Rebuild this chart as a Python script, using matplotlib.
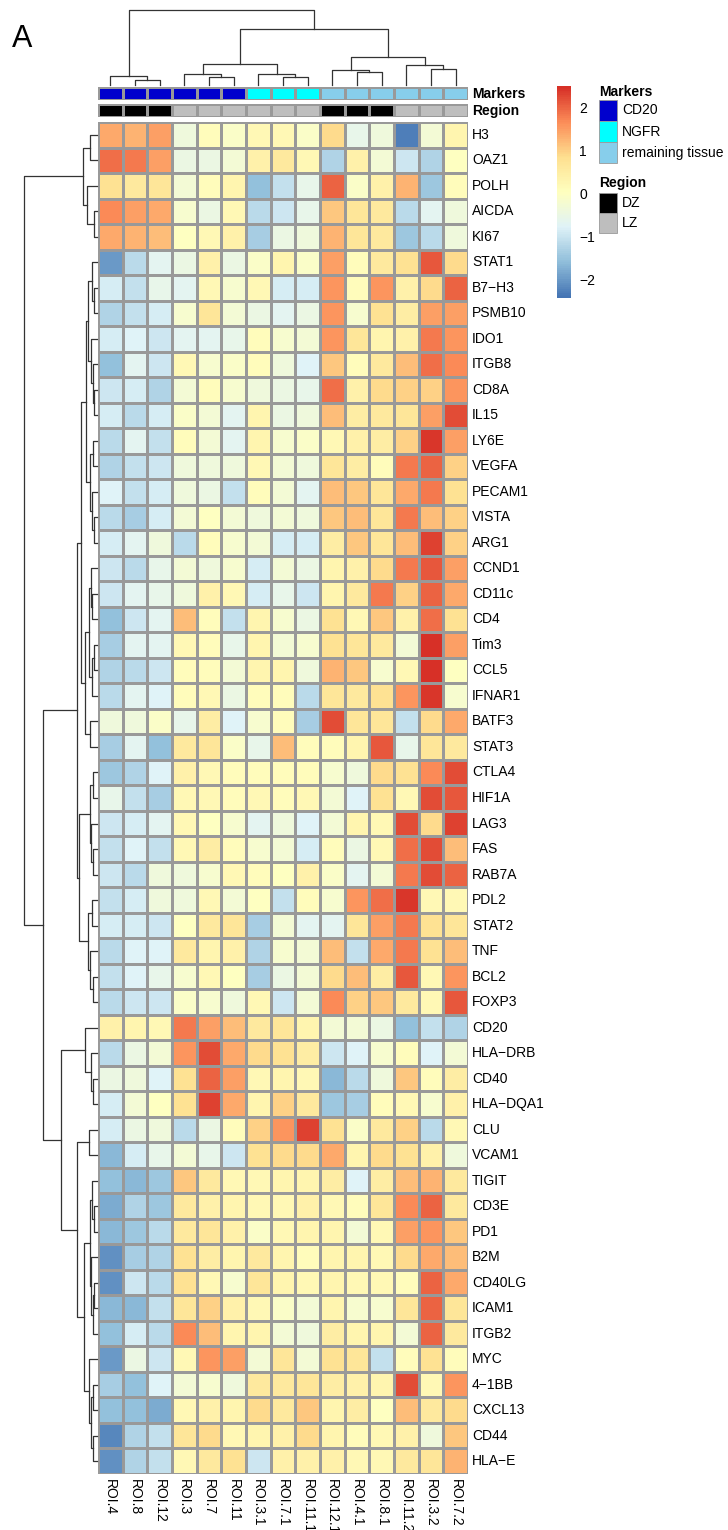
import numpy as np
import matplotlib
matplotlib.use("Agg")
import matplotlib.pyplot as plt
from matplotlib.colors import LinearSegmentedColormap, ListedColormap
from matplotlib.patches import Rectangle

plt.rcParams["font.family"] = ["Liberation Sans", "DejaVu Sans"]

# DATA

genes = ["H3", "OAZ1", "POLH", "AICDA", "KI67", "STAT1", "B7\u2212H3", "PSMB10", "IDO1",
         "ITGB8", "CD8A", "IL15", "LY6E", "VEGFA", "PECAM1", "VISTA", "ARG1", "CCND1",
         "CD11c", "CD4", "Tim3", "CCL5", "IFNAR1", "BATF3", "STAT3", "CTLA4", "HIF1A",
         "LAG3", "FAS", "RAB7A", "PDL2", "STAT2", "TNF", "BCL2", "FOXP3", "CD20",
         "HLA\u2212DRB", "CD40", "HLA\u2212DQA1", "CLU", "VCAM1", "TIGIT", "CD3E", "PD1",
         "B2M", "CD40LG", "ICAM1", "ITGB2", "MYC", "4\u22121BB", "CXCL13", "CD44", "HLA\u2212E"]

rois = ["ROI.4", "ROI.8", "ROI.12", "ROI.3", "ROI.7", "ROI.11", "ROI.3.1", "ROI.7.1",
        "ROI.11.1", "ROI.12.1", "ROI.4.1", "ROI.8.1", "ROI.11.2", "ROI.3.2", "ROI.7.2"]

markers = ["CD20"] * 6 + ["NGFR"] * 3 + ["remaining tissue"] * 6
region = ["DZ"] * 3 + ["LZ"] * 6 + ["DZ"] * 3 + ["LZ"] * 3

marker_names = ["CD20", "NGFR", "remaining tissue"]
marker_cols = ["#0000CD", "#00FFFF", "#87CEEB"]
region_names = ["DZ", "LZ"]
region_cols = ["#000000", "#BEBEBE"]

expr = np.array([
    [1.4, 1.3, 1.5, -0.4, 0.1, -0.1, 0.2, 0.2, -0.1, 0.9, -0.6, -0.4, -2.3, -0.3, 0.3],
    [1.9, 1.8, 1.5, -0.5, -0.5, -0.3, 0.4, 0.6, 0.2, -1.3, 0.4, -0.3, -1.0, -1.3, 0.0],
    [0.8, 0.6, 0.7, -0.3, 0.1, 0.3, -1.6, -1.1, -0.6, 2.0, -0.1, 0.4, 1.3, -1.5, 0.1],
    [1.7, 1.5, 1.4, -0.2, -0.5, 0.2, -1.2, -1.0, -0.6, 1.1, 0.7, 0.6, -1.2, -0.7, -0.4],
    [1.4, 1.3, 1.2, 0.0, 0.2, 0.4, -1.4, -0.5, -0.4, 1.3, 0.7, 0.6, -1.5, -1.2, -0.4],
    [-2.0, -1.2, -0.7, -0.5, 0.4, -0.5, -0.1, 0.3, -0.1, 1.5, 0.1, 0.6, 0.8, 2.1, 0.9],
    [-0.9, -1.1, -0.6, -0.7, 0.2, -0.2, 0.2, -0.9, -0.9, 1.6, 0.1, 1.6, 0.4, 0.9, 2.0],
    [-1.3, -1.1, -0.9, -0.2, 0.7, -0.3, -0.5, -0.7, -0.5, 1.6, -0.2, 0.8, 0.5, 1.5, 1.5],
    [-0.9, -0.8, -1.0, -0.7, -0.7, -0.6, 0.1, -0.2, -0.3, 1.6, 0.7, 0.3, 0.4, 1.8, 1.6],
    [-1.6, -0.7, -1.0, 0.2, -0.2, -0.1, 0.1, -0.4, -0.8, 1.1, 0.1, 0.6, 1.2, 1.9, 1.7],
    [-1.0, -0.9, -1.3, -0.3, 0.1, -0.2, -0.4, -0.5, -0.6, 1.9, 0.4, 0.9, 1.0, 1.0, 1.6],
    [-0.9, -1.2, -0.9, -0.1, -0.3, -0.7, 0.3, -0.5, -0.4, 1.2, 0.5, 0.6, 0.7, 1.5, 2.2],
    [-1.2, -0.7, -1.1, 0.1, -0.3, -0.7, 0.3, -0.2, -0.1, 0.2, 0.4, 0.5, 1.0, 2.4, 1.5],
    [-1.3, -1.1, -1.0, -0.4, -0.4, -0.4, 0.2, -0.3, -0.4, 0.7, 0.5, 0.1, 1.8, 2.0, 1.0],
    [-0.8, -1.1, -0.9, -0.4, -0.5, -1.1, 0.1, -0.3, -0.7, 1.2, 1.1, 0.7, 1.4, 1.8, 0.8],
    [-1.2, -1.4, -0.9, -0.3, 0.0, -0.3, -0.4, -0.3, -0.4, 1.1, 1.2, 0.7, 1.8, 1.2, 1.0],
    [-0.9, -0.7, -0.4, -1.2, 0.1, -0.2, -0.3, -0.9, -0.9, 0.5, 1.1, 0.7, 1.2, 2.3, 1.0],
    [-1.0, -1.2, -0.6, -0.3, -0.4, -0.2, -0.9, -0.3, -0.5, 0.3, 0.4, 0.9, 1.8, 2.1, 1.5],
    [-1.0, -0.7, -0.6, -0.4, 0.4, 0.2, -0.9, -0.6, -1.0, 0.3, 0.6, 1.8, 1.0, 2.0, 1.4],
    [-1.6, -1.0, -0.7, 1.2, 0.1, -1.1, 0.3, -0.2, -0.5, 0.8, 0.2, 1.1, 0.4, 1.9, 0.8],
    [-1.4, -0.7, -0.7, 0.2, 0.1, -0.6, 0.3, -0.3, -0.2, 0.8, 0.7, 0.6, -0.3, 2.6, 1.5],
    [-1.3, -1.2, -1.0, 0.1, 0.1, -0.3, 0.3, 0.3, -0.4, 1.3, 1.1, -0.2, 0.2, 2.6, 0.0],
    [-1.2, -0.7, -0.8, 0.1, 0.2, -0.5, 0.1, 0.1, -1.2, 0.7, 0.6, 0.8, 1.6, 2.4, -0.2],
    [-0.4, -0.4, -0.1, -0.6, 0.5, -0.8, -0.2, 0.1, -1.4, 2.2, 0.7, 0.7, -1.1, 0.9, 1.4],
    [-1.4, -0.7, -1.6, 0.6, 0.7, -0.1, -0.6, 1.2, 0.1, 0.1, 0.3, 2.1, -0.6, 0.7, 0.6],
    [-1.5, -1.3, -0.8, 0.4, 0.2, 0.1, 0.1, 0.1, 0.1, -0.2, -0.4, 0.9, 0.8, 1.7, 2.2],
    [-0.6, -1.1, -1.4, 0.2, 0.2, 0.1, 0.2, 0.1, 0.2, -0.3, -0.8, 0.8, 0.2, 2.2, 2.1],
    [-1.0, -0.9, -0.7, 0.2, 0.0, -0.2, -0.7, -0.4, -0.8, -0.3, 0.3, 0.2, 2.2, 0.9, 2.3],
    [-1.1, -0.8, -1.1, 0.2, 0.5, 0.1, -0.2, -0.3, -0.9, 0.1, -0.5, 0.2, 1.9, 2.2, 1.2],
    [-1.0, -1.2, -0.4, -0.4, -0.2, 0.2, 0.1, 0.0, 0.4, -0.1, -0.7, -0.3, 1.8, 2.2, 2.0],
    [-1.1, -0.9, -0.4, -0.4, 0.2, -0.3, 0.0, -1.1, 0.1, -0.2, 1.6, 1.9, 2.4, 0.2, 0.2],
    [-0.9, -0.9, -1.0, 0.0, 0.6, 0.7, -1.4, -0.3, -0.7, -0.7, 0.7, 1.5, 1.8, 0.8, 0.7],
    [-1.2, -0.8, -0.8, 0.6, 0.3, 0.4, -1.3, -0.2, -0.3, 1.2, -1.1, 1.4, 1.8, 0.8, 1.2],
    [-1.1, -0.8, -0.6, -0.2, 0.2, 0.0, -1.4, -0.5, -0.3, 0.9, 1.2, 0.5, 2.1, 0.2, 1.6],
    [-1.2, -1.0, -1.0, -0.1, -0.2, -0.4, 0.2, -1.0, -0.3, 1.7, 1.0, 1.1, 0.6, 0.2, 2.1],
    [0.4, 0.3, 0.2, 1.8, 1.5, 1.2, 0.6, 0.7, 0.3, -0.3, -0.3, -0.5, -1.6, -1.1, -1.3],
    [-1.2, -0.5, -0.3, 1.6, 2.2, 1.4, 0.9, 0.8, 0.5, -1.0, -0.8, -0.2, 0.1, -0.8, -0.3],
    [-0.5, -0.4, -0.8, 0.8, 2.0, 1.5, 0.2, 0.3, 0.2, -1.7, -1.2, -0.4, 1.1, 0.1, 0.5],
    [-0.9, -0.3, 0.0, 0.8, 2.3, 1.4, 0.3, 1.0, 0.6, -1.5, -1.4, 0.1, 0.2, -0.2, 0.4],
    [-0.9, -0.5, -0.4, -1.2, -0.5, 0.1, 1.0, 1.6, 2.3, 0.8, -0.1, 0.6, 1.0, -1.2, 0.2],
    [-1.7, -0.9, -0.6, -0.3, -0.6, -1.0, 0.8, 0.9, 0.9, 1.4, 0.3, 0.9, 0.8, 0.4, -0.4],
    [-1.6, -1.7, -1.5, 1.1, 0.6, 0.2, 0.2, 0.3, 0.3, 0.5, -0.8, 0.5, 1.2, 1.3, 0.6],
    [-1.8, -1.3, -1.5, 0.6, 0.4, 0.3, 0.2, 0.2, 0.4, 0.2, 0.1, 0.7, 1.7, 2.0, 0.6],
    [-1.7, -1.5, -1.2, 0.6, 0.7, 0.4, -0.1, 0.2, 0.3, 0.3, -0.3, 0.2, 1.5, 1.6, 1.1],
    [-2.1, -1.4, -1.3, 0.8, 0.5, 0.3, 0.6, 0.3, 0.1, 0.3, 0.3, 0.2, 0.9, 1.4, 1.2],
    [-2.1, -1.0, -1.2, 0.8, 0.2, -0.2, 0.7, 0.3, 0.2, 0.3, 0.2, 0.2, 0.1, 2.0, 1.4],
    [-1.7, -1.7, -1.1, 0.7, 1.0, 0.4, 0.2, -0.1, -0.3, 0.3, -0.2, -0.2, 0.7, 2.0, 0.7],
    [-1.6, -0.9, -1.2, 1.7, 1.2, 0.3, 0.3, -0.3, -0.4, 0.5, 0.3, 0.3, -0.3, 2.0, 0.6],
    [-2.0, -0.5, -1.0, 0.2, 1.6, 1.5, -0.3, 0.7, -0.3, 0.8, 0.7, -1.1, 0.1, 0.8, 0.1],
    [-1.4, -1.6, -0.8, -0.3, -0.2, -0.4, 0.6, 0.6, 0.7, 0.5, 0.4, 0.3, 2.2, 0.2, 1.6],
    [-1.6, -1.6, -1.8, 0.2, 0.4, 0.3, 0.9, 0.6, 1.1, 0.3, 0.5, 0.0, 1.2, 0.6, 0.9],
    [-2.2, -1.3, -1.1, 0.7, 0.9, 0.2, 0.3, 0.4, 0.9, 0.3, 0.1, 0.2, 0.4, -0.4, 1.1],
    [-2.1, -1.3, -1.1, 0.2, 0.6, 0.8, -1.0, 0.4, 0.4, 0.4, 0.2, 0.2, 0.6, 0.7, 1.3],
])

# dendrograms: (height, left, right), leaves = index
col_tree = (75, (9, 0, (5, 1, 2)),
            (55.7, (21, (11, 3, (7.7, 4, 5)), (11, 6, (7.7, 7, 8))),
             (28.3, (15, 9, (13.3, 10, 11)), (20, 12, (16, 13, 14)))))

row_tree = (75,
            (14, (7.7, 0, 1), (10, 2, (2.7, 3, 4))),
            (55,
             (20.7,
              (16,
               (11, (9, (5.5, 5, (3, 6, 7)), (6, 8, (4.5, 9, (3.5, 10, 11)))),
                (7, (4, 12, 13), (5, 14, (3, 15, 16)))),
               (12, (8.7, (6, 17, (5, 18, 19)), (5, (3.5, 20, 21), 22)), (7.5, 23, 24))),
              (18.3, (7.7, (4, 25, 26), (6, 27, (4, 28, 29))),
               (9, (5, 30, 31), (7, 32, (4.5, 33, 34))))),
             (37.3,
              (12, 35, (6, 36, (4.3, 37, 38))),
              (20.7, (8.7, 39, 40),
               (13.3,
                (7.7, (5, 41, (3.5, 42, 43)), (6, 44, (4.5, (3, 45, 46), 47))),
                (8, 48, (6, (4, 49, 50), (4.5, 51, 52))))))))

# FIGURE

W, H = 728, 1530
fig = plt.figure(figsize=(W / 100, H / 100), dpi=100)


def px_axes(x0, y0, x1, y1):
    ax = fig.add_axes([x0 / W, 1 - y1 / H, (x1 - x0) / W, (y1 - y0) / H])
    ax.set_axis_off()
    return ax


def fig_text(x, y, s, **kw):
    fig.text(x / W, 1 - y / H, s, **kw)


vmin, vmax = -2.44, 2.49
cmap = LinearSegmentedColormap.from_list(
    "rdylbu", ["#4575B4", "#91BFDB", "#E0F3F8", "#FFFFBF", "#FEE090", "#FC8D59", "#D73027"], N=100)
grid = "#999999"

hx0, hx1, hy0, hy1 = 98, 468, 122, 1474
nr, nc = expr.shape

# heatmap
ax = px_axes(hx0, hy0, hx1, hy1)
ax.pcolormesh(np.arange(nc + 1), np.arange(nr + 1), expr, cmap=cmap, vmin=vmin, vmax=vmax,
              edgecolors=grid, linewidth=0.8)
ax.set_xlim(0, nc)
ax.set_ylim(nr, 0)

rh = (hy1 - hy0) / nr
cw = (hx1 - hx0) / nc
for i, g in enumerate(genes):
    fig_text(hx1 + 4, hy0 + (i + 0.5) * rh, g, fontsize=10, ha="left", va="center")
for j, r in enumerate(rois):
    fig_text(hx0 + (j + 0.5) * cw, hy1 + 5, r, fontsize=10, rotation=270, ha="center", va="top")

# annotation bars
for (y0, y1, vals, names, cols, label) in [
        (87, 100, markers, marker_names, marker_cols, "Markers"),
        (104, 117, region, region_names, region_cols, "Region")]:
    a = px_axes(hx0, y0, hx1, y1)
    codes = np.array([[names.index(v) for v in vals]])
    a.pcolormesh(np.arange(nc + 1), [0, 1], codes, cmap=ListedColormap(cols),
                 vmin=-0.5, vmax=len(cols) - 0.5, edgecolors=grid, linewidth=0.8)
    a.set_xlim(0, nc)
    a.set_ylim(1, 0)
    fig_text(hx1 + 4, (y0 + y1) / 2, label, fontsize=10, fontweight="bold", ha="left", va="center")


# dendrograms
def draw_tree(a, node, horizontal):
    # returns (position, height)
    if not isinstance(node, tuple):
        return node + 0.5, 0.0
    h, left, right = node
    pl, hl = draw_tree(a, left, horizontal)
    pr, hr = draw_tree(a, right, horizontal)
    xs = [pl, pl, pr, pr]
    ys = [hl, h, h, hr]
    if horizontal:
        a.plot(xs, ys, color="#333333", lw=0.9, clip_on=False)
    else:
        a.plot(ys, xs, color="#333333", lw=0.9, clip_on=False)
    return (pl + pr) / 2, h


cax_d = px_axes(hx0, 10, hx1, 85)
draw_tree(cax_d, col_tree, True)
cax_d.set_xlim(0, nc)
cax_d.set_ylim(0, 75)

rax_d = px_axes(24, hy0, hx0 - 1, hy1)
draw_tree(rax_d, row_tree, False)
rax_d.set_xlim(75, 0)
rax_d.set_ylim(nr, 0)

# colour bar
cb = px_axes(557, 86, 571, 298)
cb.set_axis_on()
cb.imshow(np.linspace(vmin, vmax, 256)[:, None], aspect="auto", origin="lower",
          extent=[0, 1, vmin, vmax], cmap=cmap, vmin=vmin, vmax=vmax)
cb.set_xticks([])
cb.yaxis.tick_right()
cb.set_yticks([-2, -1, 0, 1, 2])
cb.tick_params(axis="y", length=0, pad=6, labelsize=10)
for s in cb.spines.values():
    s.set_visible(False)

# legends
lg = px_axes(0, 0, W, H)
lg.set_xlim(0, W)
lg.set_ylim(H, 0)
fig_text(599, 92, "Markers", fontsize=10, fontweight="bold", ha="left", va="center")
for k, (n, c) in enumerate(zip(marker_names, marker_cols)):
    y = 100 + k * 21
    lg.add_patch(Rectangle((599, y), 18, 21, facecolor=c, edgecolor=grid, lw=0.6))
    fig_text(622, y + 10.5, n, fontsize=10, ha="left", va="center")
fig_text(599, 183, "Region", fontsize=10, fontweight="bold", ha="left", va="center")
for k, (n, c) in enumerate(zip(region_names, region_cols)):
    y = 193 + k * 20
    lg.add_patch(Rectangle((599, y), 18, 20, facecolor=c, edgecolor=grid, lw=0.6))
    fig_text(622, y + 10, n, fontsize=10, ha="left", va="center")

fig_text(12, 47, "A", fontsize=22, ha="left", va="baseline")

fig.savefig("out.png", dpi=100)
